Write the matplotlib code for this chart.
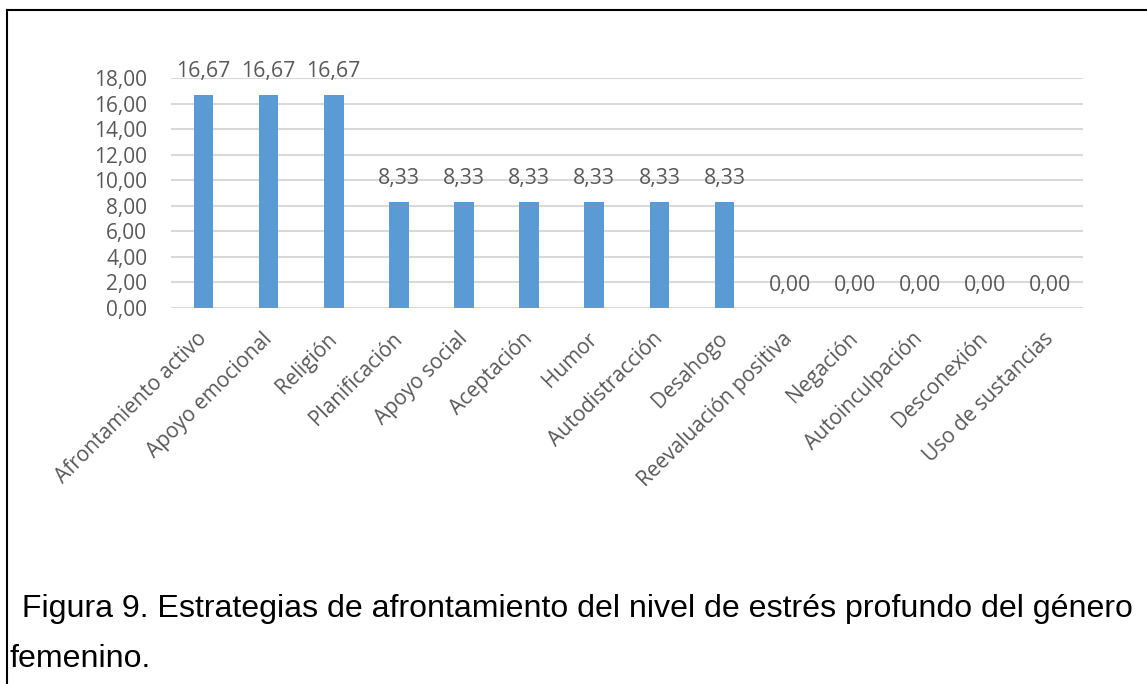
import numpy as np
import matplotlib.pyplot as plt
from matplotlib.lines import Line2D

estrategias = ["Afrontamiento activo", "Apoyo emocional", "Religión", "Planificación",
               "Apoyo social", "Aceptación", "Humor", "Autodistracción", "Desahogo",
               "Reevaluación positiva", "Negación", "Autoinculpación", "Desconexión",
               "Uso de sustancias"]
porcentajes = [16.67, 16.67, 16.67, 8.33, 8.33, 8.33, 8.33, 8.33, 8.33,
               0.00, 0.00, 0.00, 0.00, 0.00]
yticks = [0, 2, 4, 6, 8, 10, 12, 14, 16, 18]

def coma(v):
    return f"{v:.2f}".replace(".", ",")

gris = "#595959"
fig = plt.figure(figsize=(11.47, 6.84), dpi=100)
ax = fig.add_axes([0.149, 0.5497, 0.795, 0.3363])

x = np.arange(len(estrategias))
bars = ax.bar(x, porcentajes, width=0.3, color="#5b9bd5", zorder=3)

for b, v in zip(bars, porcentajes):
    ax.annotate(coma(v), (b.get_x() + b.get_width() / 2, v), xytext=(0, 9),
                textcoords="offset points", ha="center", va="bottom",
                fontsize=15.3, color=gris, family="Open Sans")

ax.set_xlim(-0.5, len(estrategias) - 0.5)
ax.set_ylim(0, 18)
ax.set_yticks(yticks)
ax.set_yticklabels([coma(t) for t in yticks], fontsize=15, color=gris, family="Open Sans")
ax.set_xticks(x)
ax.set_xticklabels(estrategias, rotation=45, ha="right", va="center", rotation_mode="anchor",
                   fontsize=15, color=gris, family="Open Sans")
ax.tick_params(length=0)
ax.tick_params(axis="y", pad=17)
ax.tick_params(axis="x", pad=20)
ax.yaxis.grid(True, color="#d9d9d9", linewidth=1.5, zorder=0)
for s in ax.spines.values():
    s.set_visible(False)

# marco del documento
fig.add_artist(Line2D([7 / 1147, 1], [1 - 9.5 / 684] * 2, color="black", lw=1.5))
fig.add_artist(Line2D([7 / 1147] * 2, [0, 1 - 9.5 / 684], color="black", lw=1.5))

fig.text(13 / 1147, 1 - 617 / 684,
         " Figura 9. Estrategias de afrontamiento del nivel de estrés profundo del género",
         fontsize=23.1, family="Liberation Sans", va="baseline", ha="left", color="black")
fig.text(9 / 1147, 1 - 667 / 684, "femenino.", fontsize=23.1, family="Liberation Sans",
         va="baseline", ha="left", color="black")

fig.savefig("out.png", dpi=100)
